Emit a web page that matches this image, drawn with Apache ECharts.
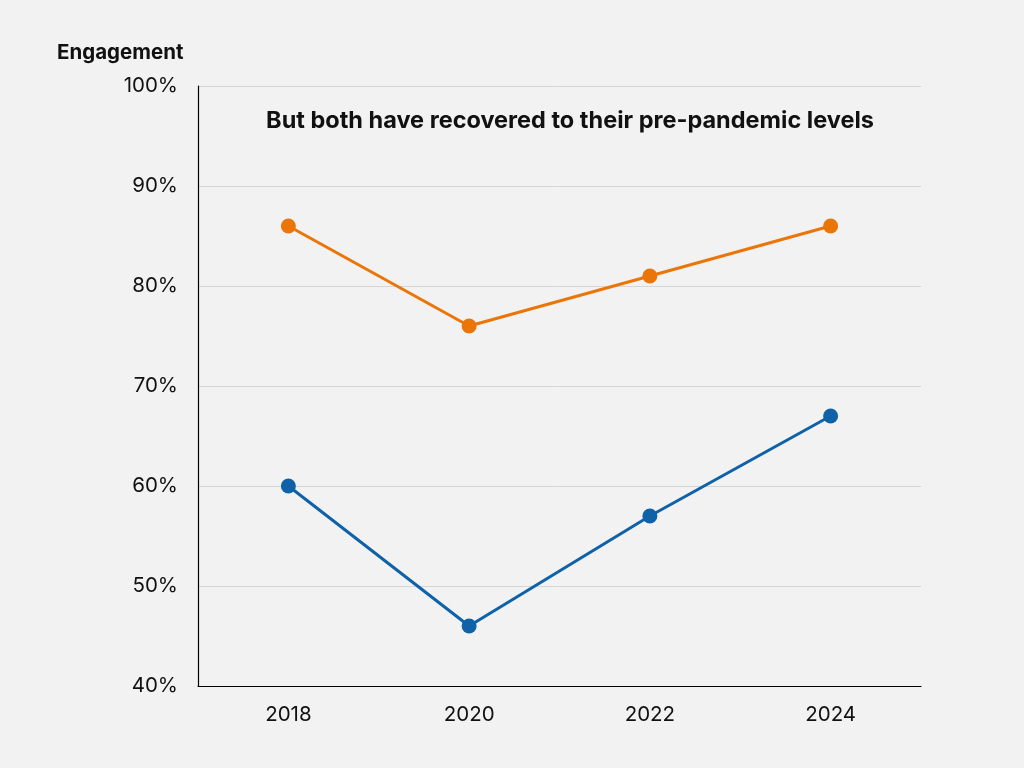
<!DOCTYPE html>
<html><head><meta charset="utf-8">
<script src="https://cdn.jsdelivr.net/npm/echarts@6/dist/echarts.min.js"></script>
<style>html,body{margin:0;padding:0;background:#f2f2f2;}#c{width:1024px;height:768px;}</style>
</head><body><div id="c"></div>
<script>
const categories = ['2018', '2020', '2022', '2024'];
const seriesOrange = [86, 76, 81, 86];
const seriesBlue = [60, 46, 57, 67];
const yTicks = [40, 50, 60, 70, 80, 90, 100];
const yAxisTitle = 'Engagement';
const annotation = 'But both have recovered to their pre-pandemic levels';

const chart = echarts.init(document.getElementById('c'), null, {renderer: 'canvas'});
chart.setOption({
  backgroundColor: '#f2f2f2',
  animation: false,
  textStyle: {fontFamily: 'Inter'},
  title: [
    {text: yAxisTitle, left: 52, top: 37, textStyle: {fontFamily: 'Inter', fontWeight: 'bold', fontSize: 20.5, color: '#111'}},
    {text: annotation, left: 565, textAlign: 'center', top: 104, textStyle: {fontFamily: 'Inter', fontWeight: 'bold', fontSize: 23.5, color: '#111'}}
  ],
  grid: {left: 198, right: 103, top: 86, bottom: 82, containLabel: false},
  xAxis: {
    type: 'category', data: categories, boundaryGap: true,
    axisLine: {lineStyle: {color: '#000', width: 1.2}},
    axisTick: {show: false},
    axisLabel: {fontFamily: 'Inter', fontSize: 20.5, color: '#111', margin: 18}
  },
  yAxis: {
    type: 'value', min: yTicks[0], max: yTicks[yTicks.length - 1], interval: 10,
    axisLine: {show: true, lineStyle: {color: '#000', width: 1.2}},
    axisTick: {show: false},
    axisLabel: {fontFamily: 'Inter', fontSize: 20.5, color: '#111', margin: 20, formatter: v => v + '%'},
    splitLine: {lineStyle: {color: '#d6d6d6', width: 1}}
  },
  series: [
    {type: 'line', data: seriesOrange, symbol: 'circle', symbolSize: 15,
     lineStyle: {color: '#ea7508', width: 3}, itemStyle: {color: '#ea7508'}},
    {type: 'line', data: seriesBlue, symbol: 'circle', symbolSize: 15,
     lineStyle: {color: '#0f62a8', width: 3}, itemStyle: {color: '#0f62a8'}}
  ]
});
</script></body></html>
